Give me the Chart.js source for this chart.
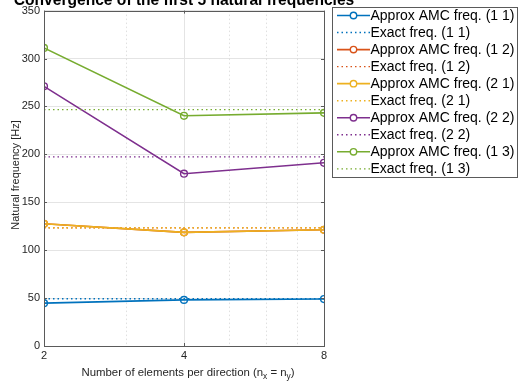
<!DOCTYPE html>
<html>
<head>
<meta charset="utf-8">
<script src="https://cdn.jsdelivr.net/npm/chart.js@4/dist/chart.umd.min.js"></script>
<style>
  html, body { margin: 0; padding: 0; background: #fff; }
  #wrap { width: 519px; height: 382px; position: relative; }
</style>
</head>
<body>
<div id="wrap"><canvas id="chart"></canvas></div>
<script>
// mesh sizes (elements per direction)
const nElem = [2, 4, 8];
const xRange = [2, 8];
const minorTicks = [3, 5, 6, 7];
const yTicks = [0, 50, 100, 150, 200, 250, 300, 350];

// approximate AMC frequencies [Hz]
const approx11 = [44.7, 48.1, 49.0];
const approx12 = [127.5, 118.6, 121.3];
const approx21 = [127.5, 118.6, 121.3];
const approx22 = [271.0, 179.8, 191.2];
const approx13 = [311.0, 240.2, 243.3];

// exact frequencies [Hz]
const exact11 = [49.35, 49.35];
const exact12 = [123.4, 123.4];
const exact21 = [123.4, 123.4];
const exact22 = [197.4, 197.4];
const exact13 = [246.7, 246.7];

const modes = ['(1 1)', '(1 2)', '(2 1)', '(2 2)', '(1 3)'];
const colors = ['#0072BD', '#D95319', '#EDB120', '#7E2F8E', '#77AC30'];
const approxAll = [approx11, approx12, approx21, approx22, approx13];
const exactAll = [exact11, exact12, exact21, exact22, exact13];

const datasets = [];
modes.forEach((m, i) => {
    datasets.push({
        label: 'Approx AMC freq. ' + m,
        data: nElem.map((n, k) => ({ x: n, y: approxAll[i][k] })),
        borderColor: colors[i],
        backgroundColor: 'rgba(0,0,0,0)',
        borderWidth: 1.6,
        pointRadius: 3.4,
        pointBorderWidth: 1.4,
        pointBackgroundColor: 'rgba(0,0,0,0)',
        pointBorderColor: colors[i],
        tension: 0,
        kind: 'approx'
    });
    datasets.push({
        label: 'Exact freq. ' + m,
        data: xRange.map((n, k) => ({ x: n, y: exactAll[i][k] })),
        borderColor: colors[i],
        borderWidth: 1.4,
        borderDash: [1.5, 3],
        pointRadius: 0,
        tension: 0,
        kind: 'exact'
    });
});
// later series are plotted on top, like MATLAB's hold on
datasets.forEach((ds, i) => { ds.order = 100 - i; });

const FONT = '"Liberation Sans", Arial, Helvetica, sans-serif';

// box, ticks, minor grid, titles and legend, drawn MATLAB style
const matlabDeco = {
    id: 'matlabDeco',
    beforeDatasetsDraw(chart) {
        const { ctx, chartArea: a, scales } = chart;
        ctx.save();
        ctx.strokeStyle = '#d8d8d8';
        ctx.lineWidth = 0.8;
        ctx.setLineDash([1.5, 2.5]);
        minorTicks.forEach(v => {
            const px = Math.round(scales.x.getPixelForValue(v)) + 0.5;
            ctx.beginPath();
            ctx.moveTo(px, a.top);
            ctx.lineTo(px, a.bottom);
            ctx.stroke();
        });
        ctx.restore();
    },
    afterDraw(chart) {
        const { ctx, chartArea: a, scales } = chart;
        ctx.save();
        // box
        ctx.strokeStyle = '#5a5a5a';
        ctx.lineWidth = 1;
        ctx.strokeRect(Math.round(a.left) + 0.5, Math.round(a.top) + 0.5,
            Math.round(a.right - a.left), Math.round(a.bottom - a.top));
        // inward ticks
        const tl = 3;
        ctx.beginPath();
        nElem.forEach(v => {
            const px = Math.round(scales.x.getPixelForValue(v)) + 0.5;
            ctx.moveTo(px, a.bottom); ctx.lineTo(px, a.bottom - tl);
            ctx.moveTo(px, a.top); ctx.lineTo(px, a.top + tl);
        });
        yTicks.forEach(v => {
            const py = Math.round(scales.y.getPixelForValue(v)) + 0.5;
            ctx.moveTo(a.left, py); ctx.lineTo(a.left + tl, py);
            ctx.moveTo(a.right, py); ctx.lineTo(a.right - tl, py);
        });
        ctx.stroke();

        // y label
        ctx.fillStyle = '#262626';
        ctx.font = '11px ' + FONT;
        ctx.textAlign = 'center';
        ctx.save();
        ctx.translate(19, 175);
        ctx.rotate(-Math.PI / 2);
        ctx.textBaseline = 'alphabetic';
        ctx.fillText('Natural frequency [Hz]', 0, 0);
        ctx.restore();

        // x label with subscripts
        const parts = [
            ['Number of elements per direction (n', 11.4, 0],
            ['x', 8.4, 3],
            [' = n', 11.4, 0],
            ['y', 8.4, 3],
            [')', 11.4, 0]
        ];
        let w = 0;
        parts.forEach(p => { ctx.font = p[1] + 'px ' + FONT; w += ctx.measureText(p[0]).width; });
        let x0 = 188 - w / 2;
        ctx.textAlign = 'left';
        parts.forEach(p => {
            ctx.font = p[1] + 'px ' + FONT;
            ctx.fillText(p[0], x0, 376 + p[2]);
            x0 += ctx.measureText(p[0]).width;
        });

        // legend
        const lx = 332.5, ly = 7.5, lw = 185, lh = 170, row = 17.04;
        ctx.fillStyle = '#fff';
        ctx.fillRect(lx, ly, lw, lh);
        ctx.strokeStyle = '#5a5a5a';
        ctx.lineWidth = 1;
        ctx.strokeRect(lx, ly, lw, lh);
        ctx.font = '14px ' + FONT;
        ctx.textBaseline = 'middle';
        chart.data.datasets.forEach((ds, i) => {
            const yy = 15.5 + i * row;
            ctx.strokeStyle = ds.borderColor;
            ctx.lineWidth = ds.borderWidth;
            ctx.setLineDash(ds.kind === 'exact' ? [1.5, 3] : []);
            ctx.beginPath();
            ctx.moveTo(337, yy); ctx.lineTo(370, yy);
            ctx.stroke();
            ctx.setLineDash([]);
            if (ds.kind === 'approx') {
                ctx.lineWidth = 1.4;
                ctx.beginPath();
                ctx.arc(353.5, yy, 3.2, 0, Math.PI * 2);
                ctx.fillStyle = '#fff';
                ctx.fill();
                ctx.stroke();
            }
            ctx.fillStyle = '#000';
            ctx.fillText(ds.label, 370.5, yy + 0.5);
        });

        // title (partly cut off at the top, as in the figure)
        const cx = (a.left + a.right) / 2;
        ctx.fillStyle = '#000';
        ctx.font = 'bold 15.6px ' + FONT;
        ctx.textAlign = 'center';
        ctx.textBaseline = 'alphabetic';
        ctx.fillText('Convergence of the first 5 natural frequencies', cx, 5);
        ctx.restore();
    }
};

const ctx = document.getElementById('chart').getContext('2d');
const chart = new Chart(ctx, {
    type: 'line',
    data: { datasets: datasets },
    plugins: [matlabDeco],
    options: {
        responsive: true,
        maintainAspectRatio: false,
        animation: false,
        layout: { padding: { left: 0, right: 195, top: 8, bottom: 0 } },
        plugins: { legend: { display: false }, title: { display: false }, tooltip: { enabled: false } },
        scales: {
            x: {
                type: 'logarithmic',
                min: xRange[0],
                max: xRange[1],
                afterBuildTicks: s => { s.ticks = nElem.map(v => ({ value: v })); },
                afterFit: s => { s.height = 36; },
                ticks: {
                    callback: v => String(v),
                    font: { family: FONT, size: 11 },
                    color: '#262626',
                    padding: 3,
                    maxRotation: 0
                },
                grid: { color: '#e4e4e4', lineWidth: 1, drawTicks: false },
                border: { display: false }
            },
            y: {
                min: 0,
                max: 350,
                afterBuildTicks: s => { s.ticks = yTicks.map(v => ({ value: v })); },
                afterFit: s => { s.width = 44; },
                ticks: {
                    font: { family: FONT, size: 11 },
                    color: '#262626',
                    padding: 4
                },
                grid: { color: '#e4e4e4', lineWidth: 1, drawTicks: false },
                border: { display: false }
            }
        }
    }
});
</script>
</body>
</html>
